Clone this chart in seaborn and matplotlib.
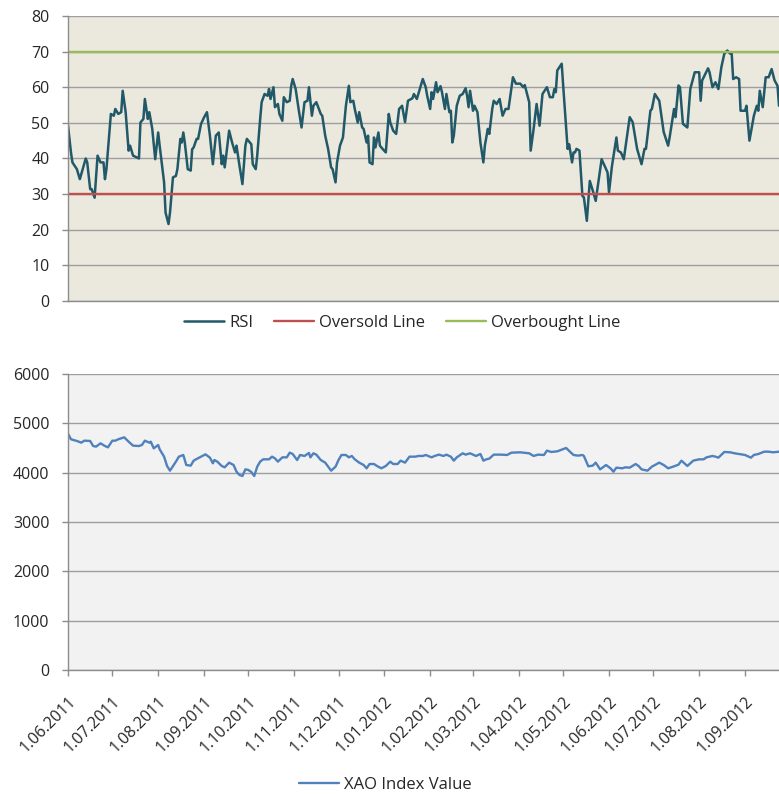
import pandas as pd
import numpy as np
import matplotlib
matplotlib.use('Agg')
import matplotlib.pyplot as plt
import seaborn as sns

start_date = pd.Timestamp('2011-06-01')
end_day = 481  # right edge of the visible plot area (days after start)

# RSI: days after 1.06.2011 and value
rsi_days = [0, 2, 3, 6, 8, 12, 13, 15, 16, 18, 20, 22, 24, 25, 26, 29, 31, 32, 34, 36,
            37, 39, 41, 42, 44, 48, 49, 51, 52, 54, 55, 57, 59, 61, 62, 65, 66, 68, 69, 71,
            73, 74, 76, 77, 78, 79, 81, 83, 84, 85, 87, 88, 90, 92, 94, 96, 98, 100, 102, 104,
            105, 106, 107, 109, 111, 113, 114, 116, 118, 120, 121, 124, 125, 127, 128, 130, 131, 133, 135, 136,
            137, 139, 140, 142, 143, 145, 146, 148, 150, 151, 152, 154, 156, 158, 160, 162, 163, 165, 166, 168,
            171, 172, 174, 176, 178, 179, 181, 182, 184, 186, 188, 190, 191, 193, 194, 196, 197, 199, 200, 202,
            203, 204, 206, 207, 208, 210, 211, 213, 215, 217, 218, 220, 222, 224, 226, 228, 230, 233, 234, 236,
            238, 240, 242, 243, 245, 246, 247, 249, 250, 252, 253, 255, 256, 258, 259, 260, 261, 263, 265, 267,
            269, 270, 271, 272, 274, 275, 277, 279, 281, 282, 284, 285, 287, 288, 290, 292, 294, 296, 298, 301,
            303, 306, 308, 309, 312, 313, 315, 317, 319, 321, 324, 326, 328, 329, 330, 331, 334, 335, 338, 339,
            341, 342, 343, 344, 346, 348, 349, 351, 353, 355, 357, 361, 365, 366, 368, 371, 372, 374, 376, 380,
            382, 385, 388, 390, 391, 394, 395, 397, 400, 403, 406, 407, 410, 411, 413, 414, 416, 419, 421, 424,
            427, 428, 429, 433, 434, 436, 438, 440, 442, 444, 446, 448, 449, 450, 452, 454, 455, 458, 459, 461,
            464, 466, 467, 468, 470, 472, 474, 476, 478, 480, 481]
rsi_values = [49.2, 41.7, 38.9, 37.0, 34.2, 40.0, 38.9, 31.4, 31.4, 29.0, 40.8, 38.9, 38.9, 34.2, 37.0, 52.5, 52.0, 53.9, 52.5, 53.0,
              59.0, 53.0, 42.2, 43.6, 40.8, 40.0, 50.1, 51.1, 56.7, 51.1, 53.0, 48.3, 39.8, 47.3, 43.6, 33.3, 24.8, 21.6, 24.8, 34.7,
              35.1, 37.0, 45.5, 44.5, 47.3, 44.5, 37.0, 36.6, 42.6, 43.1, 45.5, 45.5, 49.7, 51.5, 53.0, 46.4, 38.4, 46.4, 47.3, 38.4,
              40.8, 37.5, 40.8, 47.8, 44.5, 41.7, 43.6, 38.0, 32.8, 43.6, 45.5, 44.0, 38.4, 37.0, 40.8, 51.1, 55.8, 58.1, 57.6, 59.5,
              56.7, 60.0, 54.4, 55.3, 52.5, 50.6, 57.2, 55.8, 56.2, 60.4, 62.3, 59.5, 53.9, 48.7, 55.8, 56.2, 60.0, 52.0, 54.8, 55.8,
              52.5, 52.0, 46.4, 42.6, 37.5, 37.0, 33.3, 38.9, 43.6, 45.9, 54.8, 60.4, 55.8, 56.2, 53.9, 50.1, 53.0, 48.7, 48.3, 44.5,
              46.4, 38.9, 38.4, 45.9, 43.1, 47.3, 43.6, 42.6, 41.7, 52.5, 50.1, 47.8, 46.9, 53.9, 54.8, 50.2, 56.2, 56.9, 58.1, 56.7,
              59.5, 62.3, 60.0, 57.6, 53.9, 58.6, 56.7, 61.4, 58.6, 60.3, 58.6, 53.9, 58.1, 53.0, 53.4, 44.5, 46.4, 54.8, 57.6, 58.1,
              59.7, 57.6, 54.4, 59.0, 53.4, 54.8, 53.0, 44.5, 38.9, 43.6, 48.3, 46.9, 53.9, 56.2, 55.3, 56.7, 52.0, 53.9, 53.9, 62.8,
              61.0, 61.0, 60.0, 60.6, 55.8, 42.2, 48.3, 55.3, 49.2, 58.1, 60.0, 57.2, 57.2, 59.5, 58.6, 64.7, 66.6, 60.4, 42.7, 44.0,
              38.9, 41.7, 41.7, 42.7, 42.2, 29.5, 29.1, 22.5, 33.7, 31.0, 28.1, 39.8, 36.1, 30.5, 37.9, 45.9, 42.2, 41.7, 39.8, 51.6,
              50.2, 42.7, 38.4, 42.7, 42.7, 53.4, 53.9, 58.1, 56.2, 47.4, 43.6, 45.9, 53.9, 51.6, 60.5, 60.0, 49.7, 48.7, 59.5, 64.2,
              64.2, 56.2, 61.9, 65.3, 64.2, 60.0, 61.4, 59.5, 65.6, 69.4, 70.3, 69.4, 69.4, 62.3, 62.8, 62.3, 53.4, 53.4, 54.8, 45.0,
              52.0, 54.8, 53.4, 59.0, 54.4, 62.8, 62.8, 65.1, 61.9, 60.4, 54.8]
oversold_level = 30
overbought_level = 70

# XAO index value: days after 1.06.2011 and value
xao_days = [0, 2, 6, 9, 11, 15, 17, 19, 22, 25, 27, 30, 32, 34, 38, 41, 44, 48, 50, 52,
            55, 56, 58, 61, 62, 65, 67, 69, 73, 75, 78, 80, 83, 85, 87, 90, 93, 96, 98, 99,
            101, 104, 106, 109, 112, 114, 116, 118, 120, 122, 124, 126, 128, 130, 132, 136, 138, 140, 142, 145,
            148, 150, 152, 155, 157, 160, 163, 164, 166, 168, 171, 174, 176, 178, 181, 183, 185, 188, 190, 192,
            194, 197, 200, 202, 204, 207, 209, 212, 215, 218, 220, 223, 225, 228, 231, 235, 237, 240, 242, 246,
            248, 251, 254, 256, 259, 261, 263, 267, 269, 272, 276, 279, 281, 283, 285, 288, 293, 297, 300, 306,
            312, 315, 318, 322, 324, 327, 331, 334, 337, 340, 342, 345, 348, 349, 352, 355, 357, 360, 364, 367,
            369, 371, 375, 377, 380, 384, 386, 388, 392, 395, 400, 403, 406, 410, 413, 415, 417, 419, 423, 427,
            430, 432, 436, 438, 440, 444, 448, 451, 454, 458, 462, 464, 467, 471, 474, 477, 481]
xao_values = [4790, 4676, 4642, 4608, 4648, 4642, 4540, 4527, 4594, 4540, 4513, 4648, 4648, 4676, 4716, 4628, 4547, 4540, 4560, 4648,
              4608, 4628, 4493, 4560, 4473, 4324, 4135, 4040, 4223, 4324, 4358, 4155, 4142, 4243, 4277, 4324, 4371, 4304, 4189, 4256,
              4223, 4135, 4108, 4203, 4155, 4020, 3952, 3932, 4067, 4054, 4013, 3932, 4121, 4223, 4270, 4270, 4324, 4290, 4223, 4310,
              4310, 4405, 4378, 4256, 4358, 4338, 4399, 4310, 4392, 4365, 4256, 4203, 4121, 4040, 4121, 4256, 4358, 4358, 4310, 4338,
              4270, 4203, 4155, 4088, 4175, 4175, 4135, 4088, 4135, 4223, 4175, 4175, 4243, 4203, 4324, 4324, 4338, 4338, 4358, 4310,
              4338, 4365, 4338, 4365, 4324, 4243, 4310, 4392, 4365, 4392, 4338, 4378, 4243, 4270, 4284, 4365, 4365, 4358, 4405, 4412,
              4392, 4338, 4365, 4358, 4446, 4419, 4432, 4466, 4500, 4412, 4358, 4345, 4358, 4338, 4128, 4142, 4203, 4067, 4155, 4088,
              4020, 4101, 4088, 4108, 4101, 4175, 4135, 4067, 4040, 4121, 4203, 4155, 4088, 4128, 4162, 4243, 4189, 4135, 4243, 4270,
              4270, 4310, 4338, 4324, 4304, 4419, 4412, 4392, 4378, 4358, 4304, 4358, 4378, 4425, 4425, 4412, 4425]

month_ticks = pd.date_range('2011-06-01', '2012-09-01', freq='MS')
month_labels = [f"{d.day}.{d:%m.%Y}" for d in month_ticks]

sns.set_style('white')
plt.rcParams['font.family'] = ['Open Sans', 'DejaVu Sans']

text_color = '#262626'
axis_color = '#8C8C8C'
grid_color = '#9E9E9E'

rsi_df = pd.DataFrame({'date': start_date + pd.to_timedelta(rsi_days, unit='D'), 'RSI': rsi_values})
xao_df = pd.DataFrame({'date': start_date + pd.to_timedelta(xao_days, unit='D'), 'XAO': xao_values})
x_limits = (start_date, start_date + pd.Timedelta(days=end_day))

fig = plt.figure(figsize=(7.79, 7.94), dpi=100)
ax_rsi = fig.add_axes([0.0873, 0.6209, 0.9127, 0.3590])
ax_xao = fig.add_axes([0.0873, 0.1562, 0.9127, 0.3728])

# --- RSI panel ---
ax_rsi.set_facecolor('#EBE8DE')
sns.lineplot(data=rsi_df, x='date', y='RSI', ax=ax_rsi, color='#215968', lw=1.8, label='RSI')
ax_rsi.axhline(oversold_level, color='#C0504D', lw=1.7, label='Oversold Line')
ax_rsi.axhline(overbought_level, color='#9BBB59', lw=1.7, label='Overbought Line')
ax_rsi.set_ylim(0, 80)
ax_rsi.set_yticks(range(0, 81, 10))
ax_rsi.set_xlim(*x_limits)
ax_rsi.tick_params(axis='x', bottom=False, labelbottom=False)
ax_rsi.legend(loc='center', bbox_to_anchor=(0.516, 0.593), bbox_transform=fig.transFigure,
              ncol=3, frameon=False, fontsize=12, handlelength=2.4,
              handletextpad=0.3, columnspacing=1.25, labelcolor=text_color)

# --- XAO panel ---
ax_xao.set_facecolor('#F2F2F2')
sns.lineplot(data=xao_df, x='date', y='XAO', ax=ax_xao, color='#4F81BD', lw=1.7, label='XAO Index Value')
ax_xao.set_ylim(0, 6000)
ax_xao.set_yticks(range(0, 6001, 1000))
ax_xao.set_xlim(*x_limits)
ax_xao.set_xticks(month_ticks)
ax_xao.set_xticklabels(month_labels, rotation=45, ha='right', rotation_mode='anchor')
ax_xao.tick_params(axis='x', bottom=True, length=4, width=1, color=axis_color, pad=13,
                   labelsize=11.5, labelcolor=text_color)
ax_xao.legend(loc='center', bbox_to_anchor=(0.494, 0.0113), bbox_transform=fig.transFigure,
              frameon=False, fontsize=12, handlelength=2.4, handletextpad=0.3,
              labelcolor=text_color)

for ax in (ax_rsi, ax_xao):
    ax.set_xlabel('')
    ax.set_ylabel('')
    ax.grid(axis='y', color=grid_color, lw=1.0)
    ax.grid(axis='x', visible=False)
    ax.set_axisbelow(True)
    ax.tick_params(axis='y', left=True, length=4.3, width=1, color=axis_color, pad=9,
                   labelsize=11.5, labelcolor=text_color)
    for side in ('top', 'right'):
        ax.spines[side].set_visible(False)
    for side in ('left', 'bottom'):
        ax.spines[side].set_color(axis_color)
        ax.spines[side].set_linewidth(1.0)

fig.savefig('out.png', dpi=100, facecolor='white')
